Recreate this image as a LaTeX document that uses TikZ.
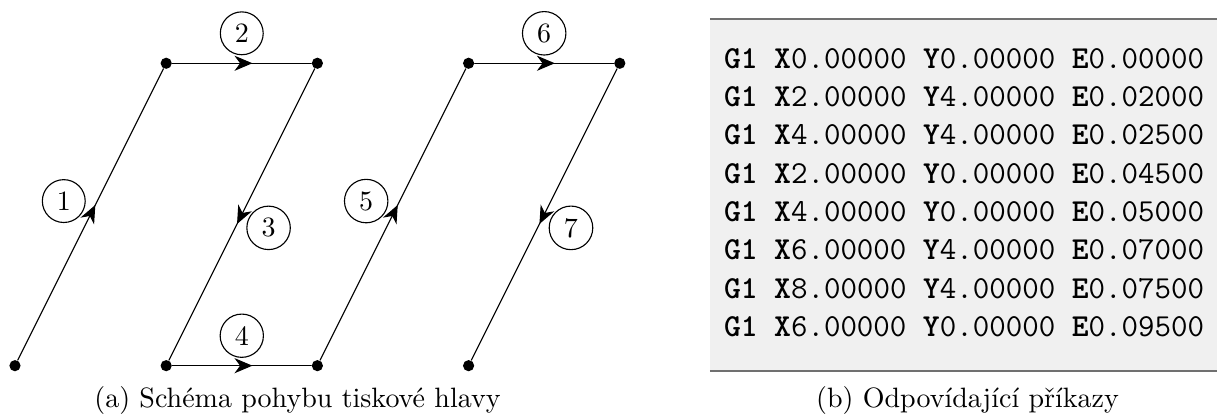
\documentclass[tikz,border=0pt]{standalone}
\usepackage{tikz}
\usetikzlibrary{calc,arrows.meta,decorations.markings}

\definecolor{codebg}{RGB}{240,240,240}
\definecolor{coderule}{RGB}{112,112,112}

\tikzset{
  dot/.style={circle, fill, inner sep=0pt, minimum size=4pt},
  num/.style={circle, draw, thin, inner sep=2.5pt, font=\fontsize{10}{12}\selectfont},
  move/.style={thin, postaction={decorate}, decoration={markings,
      mark=at position 0.5 with {\arrow[xshift=3.8pt]{Stealth[length=6.4pt, width=5.4pt, inset=2pt]}}}},
  code/.style={inner sep=0pt, anchor=base west, font=\ttfamily\fontsize{11.44}{13.7}\selectfont},
  capt/.style={inner sep=0pt, anchor=base, font=\fontsize{10}{12}\selectfont}
}
\newcommand{\gline}[3]{\textbf{G1} \textbf{X}#1 \textbf{Y}#2 \textbf{E}#3}

\begin{document}
\begin{tikzpicture}[line join=round, line cap=round, x=27pt, y=27pt]
    % page frame
    \useasboundingbox (-0.198,-0.718) rectangle (15.899,4.837);

    % head positions, same x/y as in the G-code
    \foreach \name/\px/\py in {P0/0/0, P1/2/4, P2/4/4, P3/2/0, P4/4/0, P5/6/4, P6/8/4, P7/6/0} {
      \node[dot] (\name) at (\px,\py) {};
    }

    % moves with their numbers (number on the left of the direction)
    \foreach \a/\b [count=\i] in {P0/P1, P1/P2, P2/P3, P3/P4, P4/P5, P5/P6, P6/P7} {
      \draw[move] (\a) -- (\b);
      \node[num] (n\i) at ($(\a)!0.5!(\b)!10.7pt!90:(\b)$) {\i};
    }

    % listing of the commands
    \fill[codebg] (9.193,-0.070) rectangle (15.899,4.586);
    \draw[coderule, line width=0.4pt, line cap=butt] (9.193,4.586) -- (15.899,4.586);
    \draw[coderule, line width=0.8pt, line cap=butt] (9.193,-0.070) -- (15.899,-0.070);
    \foreach \xx/\yy/\ee [count=\i] in {0/0/00000, 2/4/02000, 4/4/02500, 2/0/04500,
                                        4/0/05000, 6/4/07000, 8/4/07500, 6/0/09500} {
      \node[code] (c\i) at (9.372, {3.934-0.5071*(\i-1)}) {\gline{\xx.00000}{\yy.00000}{0.\ee}};
    }

    % captions
    \node[capt] (capA) at (3.737,-0.5595) {(a) Schéma pohybu tiskové hlavy};
    \node[capt] (capB) at (12.6,-0.5595) {(b) Odpovídající příkazy};
\end{tikzpicture}
\end{document}
